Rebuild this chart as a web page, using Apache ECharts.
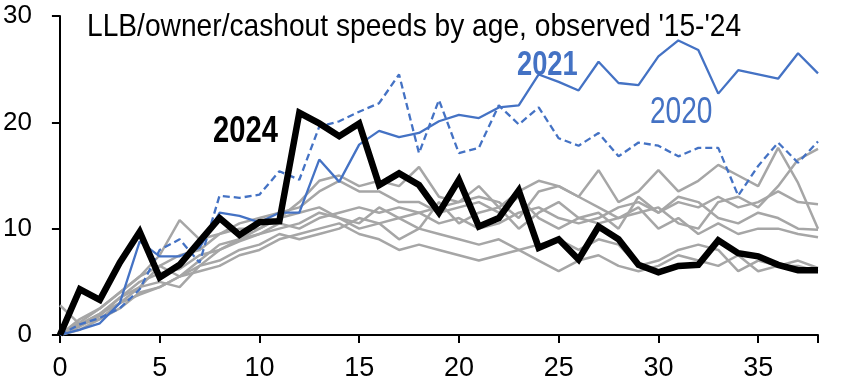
<!DOCTYPE html>
<html>
<head>
<meta charset="utf-8">
<script src="https://cdn.jsdelivr.net/npm/echarts@6/dist/echarts.min.js"></script>
<style>html,body{margin:0;padding:0;background:#fff}#c{width:852px;height:391px}</style>
</head>
<body>
<div id="c"></div>
<script>
var ages = [];
for (var i = 0; i <= 38; i++) ages.push(i);
var xTicks = [0, 5, 10, 15, 20, 25, 30, 35];
var yTicks = [0, 10, 20, 30];

var s2024 = [0,4.3,3.3,6.8,9.7,5.4,6.6,8.8,11.0,9.4,10.6,10.7,20.9,19.9,18.7,19.9,14.1,15.2,14.1,11.5,14.6,10.2,11.0,13.6,8.2,9.0,7.1,10.2,9.0,6.6,5.9,6.5,6.6,8.9,7.7,7.4,6.6,6.1,6.1];
var s2021 = [0,0.5,1.1,3.0,8.8,7.4,7.4,8.2,11.5,11.2,10.6,11.5,11.5,16.5,14.4,17.9,19.2,18.6,19.0,20.1,20.7,20.4,21.4,21.6,24.5,23.8,23.0,25.7,23.7,23.5,26.2,27.7,26.8,22.7,24.9,24.5,24.1,26.5,24.6];
var s2020 = [0,1.0,1.6,2.5,4.3,8.0,9.0,6.8,13.1,12.9,13.2,15.4,14.6,19.6,20.1,21.0,21.8,24.5,17.1,22.1,17.1,17.6,21.6,19.8,21.4,18.5,17.8,19.0,16.8,18.1,17.8,16.8,17.6,17.6,13.1,15.9,18.1,16.2,18.2];

var g2015 = [0,0.8,1.8,3.5,5.0,5.8,6.2,7.5,8.0,8.8,9.5,10.0,10.5,11.5,11.0,10.0,10.5,11.0,11.5,10.5,11.0,10.0,10.5,11.5,12.0,11.0,10.5,11.0,12.0,12.5,11.5,12.5,12.0,13.0,12.0,12.5,13.5,12.5,12.3];
var g2016 = [0,1.2,2.5,4.0,5.5,7.5,10.8,9.0,9.5,10.5,11.0,11.5,12.0,13.5,14.5,13.5,13.5,12.5,12.5,11.5,12.0,12.5,11.5,13.0,11.0,10.0,11.0,11.5,10.0,13.0,11.5,13.0,12.5,11.0,10.5,11.5,11.0,10.0,9.9];
var g2017 = [0,1.0,2.0,3.5,4.5,6.5,7.5,8.0,9.5,10.0,10.0,11.0,12.5,14.5,15.0,14.0,14.5,14.0,15.8,13.0,12.5,14.0,12.0,13.5,14.5,14.0,13.0,15.5,12.5,13.5,15.5,13.5,14.5,16.0,15.0,14.0,17.6,14.3,10.0];
var g2018 = [2.8,1.0,1.5,3.0,4.5,5.0,4.5,6.5,7.0,8.0,8.5,9.5,9.0,9.5,10.0,11.0,10.5,9.0,10.0,9.5,9.0,8.5,9.0,8.0,8.5,9.0,8.0,9.0,8.5,6.5,7.0,8.0,8.5,8.0,6.0,7.0,6.5,7.0,6.3];
var g2019 = [0,0.5,1.5,2.5,4.0,4.5,5.5,6.0,6.5,7.5,8.0,9.0,9.5,10.0,10.5,9.5,9.0,8.0,8.5,8.0,7.5,7.0,7.5,8.0,7.0,6.0,7.0,7.5,6.5,6.0,6.5,7.5,7.0,6.5,7.5,6.0,6.5,6.5,6.0];
var g2022 = [0,1.5,2.5,4.0,5.5,6.5,5.5,6.5,8.0,9.0,10.0,11.0,11.5,12.0,11.0,10.5,12.0,11.0,10.0,12.5,10.5,11.5,12.0,10.0,11.5,12.5,11.0,10.5,11.0,12.0,10.0,11.0,9.5,10.5,9.5,10.0,10.0,9.5,9.2];
var g2023 = [0,1.0,2.0,3.0,3.8,4.5,5.5,7.0,8.5,9.0,9.5,10.5,10.0,11.0,11.5,12.0,11.5,12.0,11.5,12.0,12.5,13.0,12.5,11.0,13.5,14.0,13.0,12.0,11.0,11.5,12.0,10.5,10.0,12.5,13.0,12.0,14.0,16.5,17.5];

var greyNames = ['2015','2016','2017','2018','2019','2022','2023'];
var greyData = [g2015,g2016,g2017,g2018,g2019,g2022,g2023];

function pairs(arr){ return arr.map(function(v,i){ return [ages[i], v]; }); }

var series = [];
greyData.forEach(function(d, k){
  series.push({name: greyNames[k], type:'line', data: pairs(d), symbol:'none',
    lineStyle:{color:'#a6a6a6', width:2.5}, z:1, silent:true});
});
series.push({name:'2020', type:'line', data: pairs(s2020), symbol:'none',
  lineStyle:{color:'#4472c4', width:2.3, type:[7,4]}, z:2});
series.push({name:'2021', type:'line', data: pairs(s2021), symbol:'none',
  lineStyle:{color:'#4472c4', width:2.3}, z:3});
series.push({name:'2024', type:'line', data: pairs(s2024), symbol:'none',
  lineStyle:{color:'#000', width:6.5, join:'miter'}, z:4});

var FONT = '"Liberation Sans Narrow", "Arial Narrow", "Liberation Sans", Arial, sans-serif';

function label(txt, x, y, size, sx, color, bold){
  return {type:'text', x:x, y:y, scaleX:sx, scaleY:1, z:10,
    style:{text:txt, fontSize:size, fontWeight: bold ? 'bold' : 'normal', fontFamily:FONT,
      fill:color, align:'left', verticalAlign:'middle'}};
}

var chart = echarts.init(document.getElementById('c'), null, {renderer:'canvas'});
chart.setOption({
  animation:false,
  backgroundColor:'#fff',
  grid:{left:57, right:34, top:16, bottom:56, containLabel:false},
  xAxis:{type:'value', min:0, max:38, interval:5,
    axisLine:{lineStyle:{color:'#000', width:2}},
    axisTick:{show:true, length:8, lineStyle:{color:'#000', width:2}},
    axisLabel:{color:'#000', fontSize:27, fontFamily:FONT, margin:20,
      formatter:function(v){ return xTicks.indexOf(v) >= 0 ? String(v) : ''; }},
    splitLine:{show:false}},
  yAxis:{type:'value', min:0, max:30, interval:10,
    axisLine:{show:true, lineStyle:{color:'#000', width:2}},
    axisTick:{show:true, length:8, lineStyle:{color:'#000', width:2}},
    axisLabel:{color:'#000', fontSize:26, fontFamily:FONT, margin:28,
      formatter:function(v){ return yTicks.indexOf(v) >= 0 ? String(v) : ''; }},
    splitLine:{show:false}},
  graphic:[
    label("LLB/owner/cashout speeds by age, observed '15-'24", 87, 27, 32, 0.88, '#000', false),
    label('2024', 213, 132, 36, 0.81, '#000', true),
    label('2021', 517, 65, 35, 0.78, '#4472c4', true),
    label('2020', 650, 113, 36, 0.78, '#4472c4', false)
  ],
  series: series
});
</script>
</body>
</html>
